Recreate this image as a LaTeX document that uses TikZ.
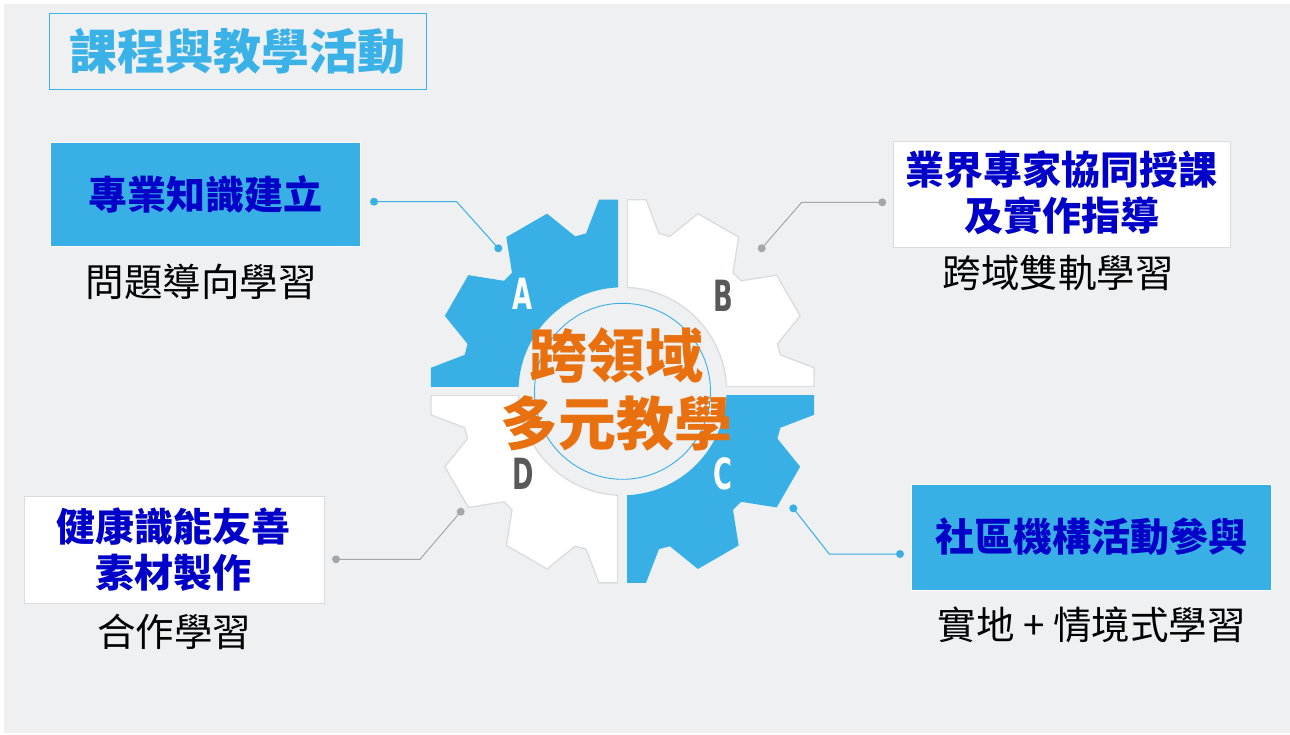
\documentclass[tikz,border=0pt]{standalone}
\usepackage{fontspec}
\newfontfamily\cjk{Noto Sans CJK TC}
\newfontfamily\lat{DejaVu Sans}
\definecolor{bg}{HTML}{EFF0F2}
\definecolor{gblue}{HTML}{38B0E6}
\definecolor{tblue}{HTML}{3AB2E8}
\definecolor{dblue}{HTML}{0000C8}
\definecolor{orng}{HTML}{E8700F}
\definecolor{gborder}{HTML}{DADBDD}
\definecolor{cgray}{HTML}{A6A6A6}
\definecolor{lgray}{HTML}{595959}
\begin{document}
\begin{tikzpicture}[x=1pt,y=-1pt,
  gear/.style={insert path={(-13:162) \foreach \k in {0,...,11}{ -- (\k*30-13:162) -- (\k*30-7:193) -- (\k*30+7:193) -- (\k*30+13:162)} -- cycle}},
  bluebox/.style={fill=gblue,draw=white,line width=0.8pt,inner sep=0pt},
  whitebox/.style={fill=white,draw=gborder,line width=0.8pt,inner sep=0pt},
  boxtext/.style={text=dblue,font={\cjk\bfseries\fontsize{39}{46.5}\selectfont},align=center},
  subtext/.style={text=black,font={\cjk\fontsize{38.5}{46}\selectfont}},
  letter/.style={font={\lat\bfseries\fontsize{43}{43}\selectfont}},
  cline/.style={line width=1pt},
  dot/.style={circle,inner sep=0pt,minimum size=8pt}
]
\useasboundingbox (0,0) rectangle (1290,735);
\fill[white] (0,0) rectangle (1290,735);
\fill[bg] (4,4) rectangle (1290,733);

% title
\node[draw=tblue,line width=1pt,minimum width=376.7pt,minimum height=75.7pt,inner sep=0pt] (title) at (237.7,51.2) {};
\node[text=tblue,font={\cjk\bfseries\fontsize{48}{48}\selectfont}] (titletext) at (237,51) {課程與教學活動};

% gear
\begin{scope}[shift={(622.5,391.3)}]
  \begin{scope}
    \clip (-4.5,-4.5) rectangle (-260,-260);
    \fill[gblue,even odd rule,gear] (0,0) circle[radius=104];
  \end{scope}
  \begin{scope}
    \clip (4.5,-4.5) rectangle (260,-260);
    \fill[white,even odd rule,gear] (0,0) circle[radius=104];
    \draw[gborder,line width=1.3pt,gear] (0,0) circle[radius=104];
    \draw[gborder,line width=1.3pt] (4.5,-103.9) -- (4.5,-191.6) (103.9,-4.5) -- (191.6,-4.5);
  \end{scope}
  \begin{scope}
    \clip (4.5,4.5) rectangle (260,260);
    \fill[gblue,even odd rule,gear] (0,0) circle[radius=104];
  \end{scope}
  \begin{scope}
    \clip (-4.5,4.5) rectangle (-260,260);
    \fill[white,even odd rule,gear] (0,0) circle[radius=104];
    \draw[gborder,line width=1.3pt,gear] (0,0) circle[radius=104];
    \draw[gborder,line width=1.3pt] (-4.5,103.9) -- (-4.5,191.6) (-103.9,4.5) -- (-191.6,4.5);
  \end{scope}
  \draw[gblue,line width=0.9pt] (0,0) circle[radius=88];
\end{scope}

% letters
\node[letter,text=white] (la) at (522,294) {\scalebox{0.6}[1]{A}};
\node[letter,text=lgray] (lb) at (723,295.5) {\scalebox{0.6}[1]{B}};
\node[letter,text=white] (lc) at (723,474) {\scalebox{0.6}[1]{C}};
\node[letter,text=lgray] (ld) at (523.3,474) {\scalebox{0.6}[1]{D}};

% centre text
\node[text=orng,font={\cjk\bfseries\fontsize{58}{58}\selectfont}] (ct1) at (616.7,355) {跨領域};
\node[text=orng,font={\cjk\bfseries\fontsize{58}{58}\selectfont}] (ct2) at (616.5,423) {多元教學};

% boxes
\node[bluebox,minimum width=310.7pt,minimum height=104.4pt] (boxA) at (205.3,194.5) {};
\node[boxtext] (txtA) at (205,194) {專業知識建立};
\node[subtext] (subA) at (201,281.7) {問題導向學習};

\node[whitebox,minimum width=336.7pt,minimum height=105.6pt] (boxB) at (1061.7,194.5) {};
\node[boxtext] (txtB) at (1061.5,193) {業界專家協同授課\\及實作指導};
\node[subtext] (subB) at (1058.3,273.3) {跨域雙軌學習};

\node[bluebox,minimum width=359.3pt,minimum height=106pt] (boxC) at (1091.3,537) {};
\node[boxtext] (txtC) at (1091,536.7) {社區機構活動參與};
\node[subtext] (subC) at (1091.7,625) {實地 + 情境式學習};

\node[whitebox,minimum width=300pt,minimum height=107.3pt] (boxD) at (174,549.7) {};
\node[boxtext] (txtD) at (173.5,549.5) {健康識能友善\\素材製作};
\node[subtext] (subD) at (174.2,631.7) {合作學習};

% connectors
\coordinate (a1) at (374,201.7); \coordinate (a2) at (456.7,201.7); \coordinate (a3) at (498.3,248.3);
\coordinate (b1) at (882.3,202.3); \coordinate (b2) at (801.7,202.3); \coordinate (b3) at (761.7,248.3);
\coordinate (c1) at (900,554); \coordinate (c2) at (829.3,554); \coordinate (c3) at (793.3,508.3);
\coordinate (d1) at (336,559.3); \coordinate (d2) at (420,559.3); \coordinate (d3) at (460.7,511.7);
\draw[cline,gblue] (a1) -- (a2) -- (a3);
\draw[cline,cgray] (b1) -- (b2) -- (b3);
\draw[cline,gblue] (c1) -- (c2) -- (c3);
\draw[cline,cgray] (d1) -- (d2) -- (d3);
\node[dot,fill=gblue] (da1) at (a1) {};
\node[dot,fill=gblue] (da3) at (a3) {};
\node[dot,fill=cgray] (db1) at (b1) {};
\node[dot,fill=cgray] (db3) at (b3) {};
\node[dot,fill=gblue] (dc1) at (c1) {};
\node[dot,fill=gblue] (dc3) at (c3) {};
\node[dot,fill=cgray] (dd1) at (d1) {};
\node[dot,fill=cgray] (dd3) at (d3) {};
\end{tikzpicture}
\end{document}
